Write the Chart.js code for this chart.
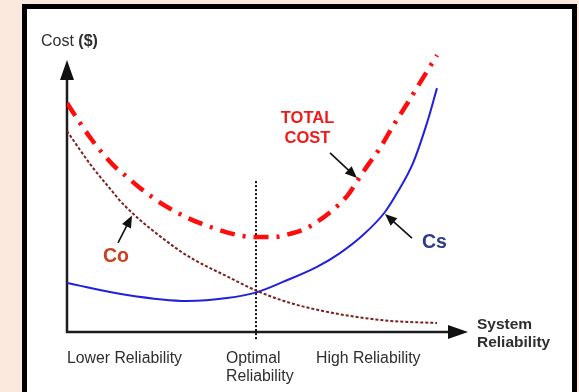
<!DOCTYPE html>
<html>
<head>
<meta charset="utf-8">
<script src="https://cdn.jsdelivr.net/npm/chart.js@4.4.0/dist/chart.umd.min.js"></script>
<style>
  html, body { margin: 0; padding: 0; background: #fce9dd; overflow: hidden; }
  canvas { display: block; }
</style>
</head>
<body>
<canvas id="c" width="579" height="392"></canvas>
<script>
// System reliability (x, 0–100) against cost (y, 0–100), schematic units
const totalCostX = [0, 3.25, 6.25, 11.5, 15, 18.25, 25, 33.25, 47, 52, 55.75, 60, 67, 70.25, 72.75, 75.25, 78.25, 81.5, 85, 87.75, 92.5];
const totalCostY = [76.3, 69.7, 64.0, 55.7, 51.7, 48.0, 41.7, 36.3, 31.7, 31.7, 32.7, 34.7, 41.3, 45.7, 50.7, 55.7, 61.3, 68.7, 76.0, 82.0, 92.3];

const coX = [0, 3.25, 6.5, 10, 14.5, 27.5, 31.5, 39.75, 47.5, 55.75, 64, 72.5, 80.75, 92.5];
const coY = [67.0, 60.7, 54.7, 49.0, 42.0, 27.7, 24.3, 18.7, 13.7, 9.7, 7.0, 5.0, 3.7, 3.0];

const csX = [0, 15, 30, 40, 47.5, 54, 62.5, 68.25, 74, 79.5, 82.5, 86.5, 90, 92.5];
const csY = [16.3, 12.3, 10.3, 11.3, 13.3, 16.7, 21.7, 26.3, 32.3, 40.0, 46.3, 56.3, 69.7, 81.3];

const optimalReliability = 47.25;

const axisLabels = ["Lower Reliability", ["Optimal", "Reliability"], "High Reliability"];
const axisLabelX = [0, 39.75, 62.25];

const toPoints = (xs, ys) => xs.map((x, i) => ({ x, y: ys[i] }));

const FONT = "'Liberation Sans', Arial, sans-serif";
const TEXT = '#2e2e2e';

function arrowHead(ctx, tx, ty, angle, len, half) {
  ctx.save();
  ctx.translate(tx, ty);
  ctx.rotate(angle);
  ctx.beginPath();
  ctx.moveTo(0, 0);
  ctx.lineTo(-len, -half);
  ctx.lineTo(-len, half);
  ctx.closePath();
  ctx.fill();
  ctx.restore();
}

function pointerArrow(ctx, x1, y1, x2, y2) {
  const a = Math.atan2(y2 - y1, x2 - x1);
  ctx.beginPath();
  ctx.moveTo(x1, y1);
  ctx.lineTo(x2 - Math.cos(a) * 8, y2 - Math.sin(a) * 8);
  ctx.stroke();
  arrowHead(ctx, x2, y2, a, 12, 5);
}

// Page frame behind the plot
const framePlugin = {
  id: 'framePlugin',
  beforeDraw(chart) {
    const c = chart.ctx;
    c.save();
    c.fillStyle = '#fce9dd';
    c.fillRect(0, 0, chart.width, chart.height);
    c.fillStyle = '#ffffff';
    c.fillRect(24, 6, 551, 420);
    c.strokeStyle = '#000000';
    c.lineWidth = 5;
    c.strokeRect(24.5, 6.5, 550, 440);
    c.restore();
  }
};

// Arrowed axes, optimum marker and axis texts
const axesPlugin = {
  id: 'axesPlugin',
  beforeDatasetsDraw(chart) {
    const c = chart.ctx;
    const xs = chart.scales.x, ys = chart.scales.y;
    const x0 = xs.getPixelForValue(0), y0 = ys.getPixelForValue(0);
    const yTop = ys.getPixelForValue(90.7);
    const xEnd = xs.getPixelForValue(100.25);
    c.save();
    c.strokeStyle = '#1c1c1c';
    c.fillStyle = '#111111';
    c.lineWidth = 2.5;
    c.beginPath();
    c.moveTo(x0, yTop + 10);
    c.lineTo(x0, y0);
    c.lineTo(xEnd - 10, y0);
    c.stroke();
    arrowHead(c, x0, yTop, -Math.PI / 2, 20, 7);
    arrowHead(c, xEnd, y0, 0, 20, 7);

    // optimum reliability marker
    const xo = xs.getPixelForValue(optimalReliability);
    c.strokeStyle = '#111111';
    c.lineWidth = 2;
    c.setLineDash([2, 2]);
    c.beginPath();
    c.moveTo(xo, ys.getPixelForValue(50.3));
    c.lineTo(xo, ys.getPixelForValue(-2.7));
    c.stroke();
    c.setLineDash([]);

    // axis texts
    c.fillStyle = TEXT;
    c.textAlign = 'left';
    c.textBaseline = 'alphabetic';
    c.font = `15.8px ${FONT}`;
    axisLabels.forEach((lab, i) => {
      const lines = Array.isArray(lab) ? lab : [lab];
      const px = xs.getPixelForValue(axisLabelX[i]);
      lines.forEach((t, j) => c.fillText(t, px, 363 + j * 18));
    });
    c.font = `bold 15.5px ${FONT}`;
    c.fillText('System', 477, 329);
    c.fillText('Reliability', 477, 347);

    c.font = `16px ${FONT}`;
    c.fillText('Cost ', 41, 46);
    const w = c.measureText('Cost ').width;
    c.font = `bold 16px ${FONT}`;
    c.fillText('($)', 41 + w, 46);
    c.restore();
  },
  afterDatasetsDraw(chart) {
    const c = chart.ctx;
    const xs = chart.scales.x, ys = chart.scales.y;
    const P = (x, y) => [xs.getPixelForValue(x), ys.getPixelForValue(y)];
    c.save();
    c.strokeStyle = '#111111';
    c.fillStyle = '#111111';
    c.lineWidth = 1.6;

    // total cost pointer
    let a = P(65.75, 59.7), b = P(72.5, 51.3);
    pointerArrow(c, a[0], a[1], b[0], b[1]);
    // Cs pointer
    a = P(86.25, 31.3); b = P(79.5, 39.3);
    pointerArrow(c, a[0], a[1], b[0], b[1]);
    // Co pointer
    a = P(12.75, 29.7); b = P(16.25, 38.8);
    pointerArrow(c, a[0], a[1], b[0], b[1]);

    c.textAlign = 'center';
    c.textBaseline = 'alphabetic';
    c.fillStyle = '#f01a1a';
    c.font = `bold 16.5px ${FONT}`;
    c.fillText('TOTAL', 307.5, 123);
    c.fillText('COST', 307.5, 143);

    c.textAlign = 'left';
    c.fillStyle = '#2f3a8c';
    c.font = `bold 19.5px ${FONT}`;
    c.fillText('Cs', 422, 248);

    c.fillStyle = '#c9401f';
    c.fillText('Co', 103, 262);
    c.restore();
  }
};

new Chart(document.getElementById('c'), {
  type: 'line',
  data: {
    datasets: [
      {
        label: 'Co',
        data: toPoints(coX, coY),
        borderColor: '#7d1f1f',
        borderWidth: 2,
        borderDash: [3, 2],
        pointRadius: 0,
        cubicInterpolationMode: 'monotone',
        fill: false
      },
      {
        label: 'Cs',
        data: toPoints(csX, csY),
        borderColor: '#1f1fe0',
        borderWidth: 2,
        pointRadius: 0,
        cubicInterpolationMode: 'monotone',
        fill: false
      },
      {
        label: 'TOTAL COST',
        data: toPoints(totalCostX, totalCostY),
        borderColor: '#ff0d0d',
        borderWidth: 4.5,
        borderDash: [15, 8, 3, 8],
        borderCapStyle: 'butt',
        pointRadius: 0,
        cubicInterpolationMode: 'monotone',
        fill: false
      }
    ]
  },
  options: {
    responsive: false,
    devicePixelRatio: 1,
    animation: false,
    layout: { padding: { left: 67, right: 112, top: 32, bottom: 60 } },
    scales: {
      x: { type: 'linear', min: 0, max: 100, display: false },
      y: { type: 'linear', min: 0, max: 100, display: false }
    },
    plugins: {
      legend: { display: false },
      tooltip: { enabled: false }
    }
  },
  plugins: [framePlugin, axesPlugin]
});
</script>
</body>
</html>
